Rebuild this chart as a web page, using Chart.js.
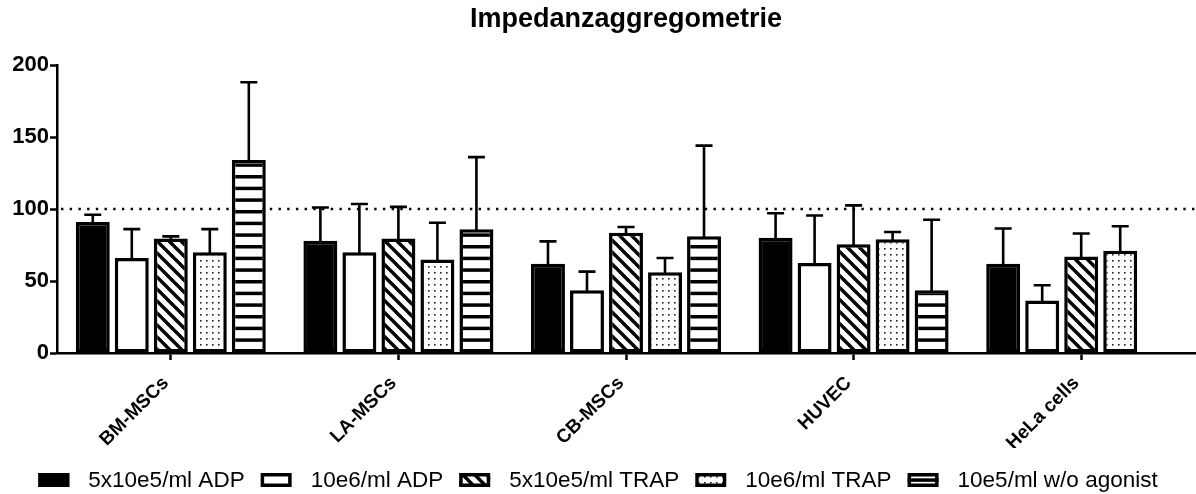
<!DOCTYPE html>
<html>
<head>
<meta charset="utf-8">
<script src="https://cdn.jsdelivr.net/npm/chart.js@4"></script>
<style>
  html, body { margin: 0; padding: 0; background: #fff; }
  #wrap { width: 1196px; height: 494px; }
</style>
</head>
<body>
<div id="wrap"><canvas id="c" width="1196" height="494"></canvas></div>
<script>
// Cell types on the x axis
const categories = ['BM-MSCs', 'LA-MSCs', 'CB-MSCs', 'HUVEC', 'HeLa cells'];

// Series names (legend)
const seriesNames = ['5x10e5/ml ADP', '10e6/ml ADP', '5x10e5/ml TRAP', '10e6/ml TRAP', '10e5/ml w/o agonist'];

// Means and standard deviations per series
const adpLowMean   = [91, 78, 62, 80, 62];
const adpLowSd     = [5, 23, 15.5, 17, 24.5];
const adpHighMean  = [66, 70, 43.5, 62.5, 36.5];
const adpHighSd    = [20, 33.5, 13, 33, 10.5];
const trapLowMean  = [79.5, 79.5, 83.5, 75.5, 67];
const trapLowSd    = [1.5, 22, 4, 27, 16];
const trapHighMean = [70, 65, 56, 79, 71];
const trapHighSd   = [16, 25.5, 10, 5, 17];
const noAgonistMean = [134, 86, 81, 43.5, null];
const noAgonistSd   = [54, 50, 63, 49, null];

// Value axis
const yTicks = [0, 50, 100, 150, 200];
const referenceLevel = 100;

const FONT = '"Liberation Sans", Arial, Helvetica, sans-serif';
const canvas = document.getElementById('c');
const ctx = canvas.getContext('2d');

function tile(w, h, paint) {
  const t = document.createElement('canvas');
  t.width = w; t.height = h;
  const g = t.getContext('2d');
  g.fillStyle = '#fff';
  g.fillRect(0, 0, w, h);
  paint(g);
  return ctx.createPattern(t, 'repeat');
}

// Diagonal hatch ("\" direction)
const hatch = tile(12, 12, g => {
  g.strokeStyle = '#000';
  g.lineWidth = 3.4;
  for (const o of [-12, 0, 12]) {
    g.beginPath();
    g.moveTo(-2, o - 2);
    g.lineTo(14, 14 + o);
    g.stroke();
  }
});

// Fine dot grid
const dots = tile(6, 6, g => {
  g.fillStyle = '#222';
  g.fillRect(2, 2, 1.6, 1.6);
});

// Horizontal stripes
const stripes = tile(4, 35, g => {
  g.fillStyle = '#000';
  for (const y of [0, 35 / 3, 70 / 3]) g.fillRect(0, y, 4, 3.5);
});

const fills = ['#000', '#fff', hatch, dots, stripes];
const means = [adpLowMean, adpHighMean, trapLowMean, trapHighMean, noAgonistMean];
const sds = [adpLowSd, adpHighSd, trapLowSd, trapHighSd, noAgonistSd];

const datasets = seriesNames.map((name, i) => ({
  label: name,
  data: means[i],
  sd: sds[i],
  backgroundColor: fills[i],
  borderColor: '#000',
  borderWidth: 3.5,
  borderSkipped: false,
  categoryPercentage: 0.857,
  barPercentage: 0.87
}));

// Dotted line at the reference level, behind the bars
const referenceLine = {
  id: 'referenceLine',
  beforeDatasetsDraw(chart) {
    const { ctx, chartArea, scales } = chart;
    const y = scales.y.getPixelForValue(referenceLevel);
    ctx.save();
    ctx.strokeStyle = '#000';
    ctx.lineWidth = 2.6;
    ctx.setLineDash([2.4, 6.3]);
    ctx.beginPath();
    ctx.moveTo(chartArea.left + 4, y);
    ctx.lineTo(chartArea.right, y);
    ctx.stroke();
    ctx.restore();
  }
};

// Upward SD whiskers with caps
const errorBars = {
  id: 'errorBars',
  afterDatasetsDraw(chart) {
    const { ctx, scales } = chart;
    ctx.save();
    ctx.strokeStyle = '#000';
    ctx.lineWidth = 2.6;
    chart.data.datasets.forEach((ds, di) => {
      const meta = chart.getDatasetMeta(di);
      meta.data.forEach((bar, i) => {
        const v = ds.data[i], sd = ds.sd[i];
        if (v == null || sd == null) return;
        const yTop = scales.y.getPixelForValue(v + sd);
        ctx.beginPath();
        ctx.moveTo(bar.x, bar.y + 1);
        ctx.lineTo(bar.x, yTop);
        ctx.moveTo(bar.x - 8.5, yTop);
        ctx.lineTo(bar.x + 8.5, yTop);
        ctx.stroke();
      });
    });
    ctx.restore();
  }
};

// Single-row legend along the bottom edge
const bottomLegend = {
  id: 'bottomLegend',
  afterDraw(chart) {
    const { ctx } = chart;
    const boxW = 31, boxH = 14, gapText = 19, gapItem = 16;
    const cy = 480;
    ctx.save();
    ctx.font = '22.5px ' + FONT;
    const items = chart.data.datasets.map(ds => ({ ds, w: ctx.measureText(ds.label).width }));
    let total = 0;
    items.forEach((it, i) => { total += boxW + gapText + it.w + (i < items.length - 1 ? gapItem : 0); });
    let x = (chart.width - total) / 2;
    items.forEach(it => {
      ctx.fillStyle = it.ds.backgroundColor;
      ctx.fillRect(x, cy - boxH / 2, boxW, boxH);
      ctx.strokeStyle = '#000';
      ctx.lineWidth = 3.5;
      ctx.strokeRect(x + 1.75, cy - boxH / 2 + 1.75, boxW - 3.5, boxH - 3.5);
      ctx.fillStyle = '#000';
      ctx.textBaseline = 'middle';
      ctx.textAlign = 'left';
      ctx.fillText(it.ds.label, x + boxW + gapText, cy + 1);
      x += boxW + gapText + it.w + gapItem;
    });
    ctx.restore();
  }
};

Chart.defaults.color = '#000';
Chart.defaults.font.family = FONT;

new Chart(ctx, {
  type: 'bar',
  data: { labels: categories, datasets },
  plugins: [referenceLine, errorBars, bottomLegend],
  options: {
    responsive: false,
    animation: false,
    layout: { padding: { left: 0, right: 1, top: 0, bottom: 46 } },
    plugins: {
      legend: { display: false },
      tooltip: { enabled: false },
      title: {
        display: true,
        fullSize: false,
        text: 'Impedanzaggregometrie',
        color: '#000',
        font: { family: FONT, size: 27, weight: 'bold', lineHeight: 1.2 },
        padding: { top: 3, bottom: 29.6 }
      }
    },
    scales: {
      x: {
        afterFit(scale) { scale.height = 95; },
        grid: { display: true, drawOnChartArea: false, offset: false, tickLength: 7, tickWidth: 2.5, tickColor: '#000' },
        border: { display: true, color: '#000', width: 2.5 },
        ticks: {
          minRotation: 45, maxRotation: 45, padding: 12, labelOffset: -5,
          font: { family: FONT, size: 19, weight: 'bold' }, color: '#000'
        }
      },
      y: {
        min: 0, max: 200,
        afterFit(scale) { scale.width = 57; },
        afterBuildTicks(scale) { scale.ticks = yTicks.map(v => ({ value: v })); },
        grid: { display: true, drawOnChartArea: false, tickLength: 7, tickWidth: 2.5, tickColor: '#000' },
        border: { display: true, color: '#000', width: 2.5 },
        ticks: {
          padding: 1,
          font: { family: FONT, size: 22, weight: 'bold' }, color: '#000'
        }
      }
    }
  }
});
</script>
</body>
</html>
